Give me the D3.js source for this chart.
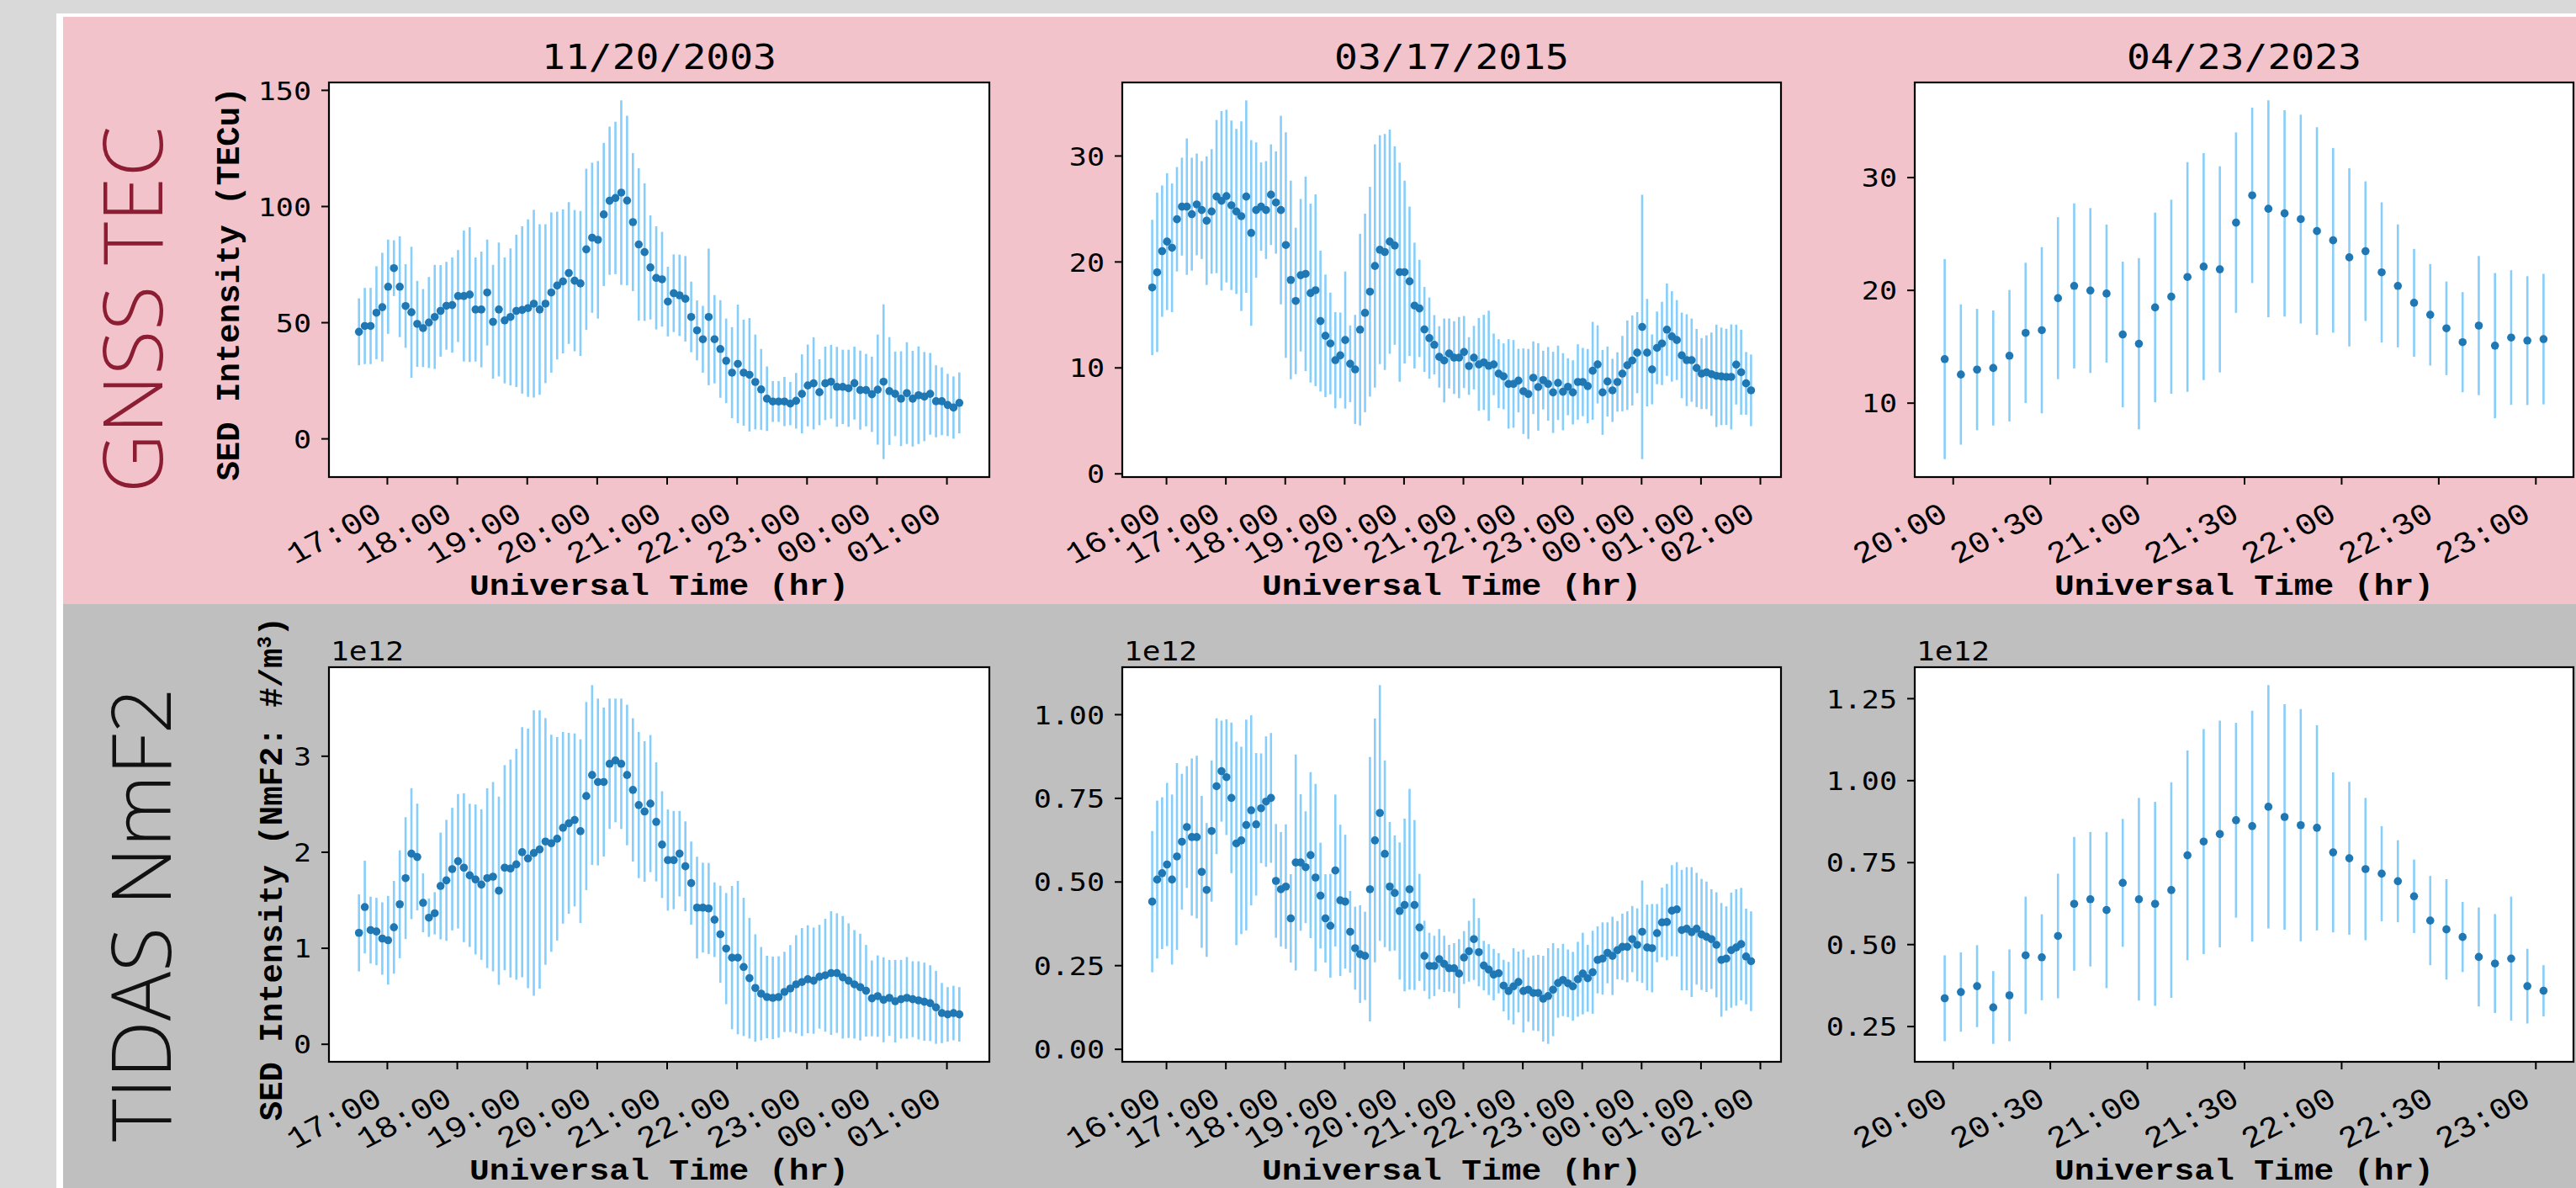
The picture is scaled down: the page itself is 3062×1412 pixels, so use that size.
<!DOCTYPE html>
<html>
<head>
<meta charset="utf-8">
<script src="https://cdn.jsdelivr.net/npm/d3@7"></script>
<style>
  body { margin: 0; background: #d9d9d9; }
  svg { display: block; }
</style>
</head>
<body>
<svg id="fig"></svg>
<script>
// ---- data: 5-minute SED intensity, value and 1-sigma error ----
var start2003 = "2003-11-20T16:36:00Z";
var start2015 = "2015-03-17T15:46:00Z";
var start2023 = "2023-04-23T19:57:30Z";

var tec2003 = [45.9,48.4,48.4,54.1,56.5,65.3,73.3,65.3,57.0,54.3,
  49.3,47.5,49.9,52.3,54.9,57.1,57.4,61.3,61.3,61.9,
  55.5,55.5,62.8,50.2,55.5,50.8,52.3,54.9,55.3,56.1,
  58.0,55.5,58.0,62.8,65.8,67.6,71.2,67.9,66.7,81.4,
  86.4,85.5,96.4,102.3,103.5,105.8,102.4,93.1,83.5,80.2,
  73.6,69.1,68.5,58.9,62.5,61.6,60.1,52.3,46.5,42.7,
  52.3,42.7,38.5,33.4,28.3,32.1,28.3,27.4,24.3,21.1,
  17.1,15.9,15.9,15.9,15.0,16.2,19.2,22.8,23.7,19.9,
  23.7,24.4,22.2,22.2,21.6,23.8,20.8,20.8,19.0,21.0,
  24.4,20.4,19.2,17.1,19.5,17.1,18.6,18.0,19.2,16.0,
  16.0,14.4,13.3,15.3];
var tec2003Err = [14.4,16.4,16.4,20.0,23.4,20.3,12.0,21.7,18.0,28.2,
  18.5,16.8,19.6,22.4,19.7,18.9,20.5,19.8,28.2,29.0,
  22.4,24.9,22.8,24.5,28.8,27.1,29.5,32.8,36.0,38.2,
  40.4,36.7,34.2,34.5,31.8,31.0,30.5,30.4,31.2,34.7,
  32.3,33.9,30.8,31.9,32.8,39.7,36.5,29.7,32.8,29.6,
  22.4,22.2,20.4,15.0,16.7,17.5,18.4,15.2,12.9,14.4,
  29.4,19.0,21.0,18.2,19.6,25.5,22.8,24.4,20.4,17.4,
  13.9,8.8,8.8,10.6,9.3,12.0,17.0,17.6,19.8,14.2,
  15.8,15.9,17.2,16.0,16.6,15.7,17.0,15.6,16.2,23.7,
  33.3,23.2,18.2,20.4,21.9,20.6,21.0,19.2,17.6,15.5,
  14.6,13.4,13.4,13.1];

var tec2015 = [17.55,18.98,20.98,21.88,21.30,23.99,25.18,25.18,24.47,25.39,
  24.86,23.86,24.73,26.13,25.73,26.18,25.31,24.73,24.28,26.13,
  22.70,24.86,25.18,24.86,26.31,25.57,24.86,21.56,18.26,16.28,
  18.71,18.84,17.02,17.29,14.38,12.99,12.27,10.69,11.14,12.59,
  10.35,9.82,13.57,15.15,17.15,19.58,21.11,20.90,21.88,21.51,
  19.00,19.00,18.13,15.84,15.57,13.59,12.77,12.14,11.00,10.66,
  11.32,10.93,10.93,11.46,10.14,10.93,10.29,10.48,10.16,10.29,
  9.42,9.16,8.45,8.45,8.76,7.76,7.50,9.03,8.16,8.81,
  8.45,7.65,8.55,7.71,8.18,7.65,8.63,8.63,8.24,9.69,
  10.29,7.65,8.68,7.84,8.63,9.42,10.21,10.66,11.40,13.83,
  11.40,9.82,11.85,12.27,13.57,12.93,12.59,11.14,10.69,10.69,
  9.95,9.42,9.55,9.37,9.21,9.16,9.11,9.11,10.27,9.55,
  8.50,7.84];
var tec2015Err = [6.39,7.52,6.20,6.46,6.07,4.93,4.62,6.44,5.33,4.80,
  4.62,6.07,5.88,7.23,8.47,8.15,8.00,7.79,8.95,9.08,
  8.76,6.39,4.17,4.62,4.75,4.83,8.90,10.64,9.37,6.91,
  7.20,9.18,8.44,9.05,6.65,5.78,4.80,4.54,4.04,6.47,
  3.62,5.15,9.05,9.37,9.90,11.48,10.80,11.14,10.58,9.37,
  10.34,8.63,7.05,5.94,4.59,4.01,3.83,2.80,2.90,3.96,
  3.30,3.43,3.83,3.40,2.72,3.00,4.38,4.49,5.20,2.91,
  3.25,3.11,4.22,4.14,3.00,4.04,4.25,3.43,4.12,2.77,
  3.48,3.83,3.51,3.64,2.69,3.03,3.56,3.22,3.50,4.62,
  3.69,4.01,3.30,2.98,2.80,3.56,4.22,4.25,3.83,12.48,
  5.07,3.30,3.43,3.93,4.36,4.27,3.77,4.04,4.33,3.93,
  3.69,3.35,3.48,3.93,4.83,4.60,4.54,4.96,3.77,4.01,
  2.96,3.38];

var tec2023 = [13.87,12.50,12.94,13.08,14.17,16.19,16.43,19.27,20.36,19.95,
  19.68,16.05,15.23,18.45,19.40,21.15,22.07,21.83,25.97,28.39,
  27.20,26.79,26.28,25.22,24.40,22.89,23.44,21.56,20.36,18.86,
  17.80,16.60,15.37,16.84,15.06,15.78,15.51,15.64];
var tec2023Err = [8.87,6.22,5.38,5.10,5.83,6.22,7.37,7.18,7.32,7.31,
  6.12,6.46,7.59,8.41,8.60,10.19,10.07,9.14,8.00,7.78,
  9.61,9.15,9.26,9.21,8.19,7.90,6.19,6.21,5.45,4.78,
  4.50,4.15,4.44,6.17,6.44,5.97,5.71,5.79];

// NmF2 in units of 1e12 #/m^3
var nmf2003 = [1.156,1.425,1.185,1.170,1.097,1.079,1.214,1.454,1.726,1.981,
  1.946,1.469,1.314,1.360,1.644,1.703,1.820,1.902,1.835,1.755,
  1.712,1.659,1.726,1.741,1.595,1.835,1.826,1.870,1.996,1.931,
  1.987,2.025,2.107,2.089,2.136,2.250,2.297,2.332,2.215,2.581,
  2.800,2.727,2.727,2.917,2.952,2.917,2.800,2.645,2.487,2.420,
  2.502,2.312,2.075,1.914,1.914,1.981,1.849,1.674,1.419,1.419,
  1.410,1.293,1.141,0.992,0.898,0.898,0.801,0.684,0.582,0.523,
  0.488,0.479,0.488,0.541,0.576,0.620,0.644,0.673,0.658,0.699,
  0.714,0.737,0.737,0.693,0.658,0.620,0.591,0.553,0.474,0.497,
  0.459,0.479,0.444,0.465,0.479,0.465,0.453,0.439,0.424,0.380,
  0.321,0.307,0.321,0.307];
var nmf2003Err = [0.401,0.483,0.348,0.351,0.377,0.462,0.483,0.562,0.635,0.682,
  0.556,0.307,0.200,0.220,0.556,0.630,0.638,0.700,0.775,0.746,
  0.781,0.784,0.936,0.986,0.980,1.068,1.135,1.203,1.302,1.352,
  1.487,1.449,1.285,1.130,1.060,0.998,0.942,0.901,0.957,0.980,
  0.936,0.869,0.776,0.679,0.644,0.679,0.732,0.746,0.761,0.732,
  0.714,0.620,0.556,0.527,0.512,0.445,0.468,0.433,0.530,0.468,
  0.474,0.389,0.506,0.579,0.746,0.799,0.720,0.629,0.559,0.486,
  0.430,0.430,0.424,0.418,0.453,0.512,0.562,0.562,0.553,0.541,
  0.588,0.644,0.623,0.638,0.597,0.565,0.556,0.477,0.395,0.424,
  0.442,0.395,0.430,0.410,0.425,0.395,0.407,0.407,0.395,0.380,
  0.313,0.284,0.284,0.284];

var nmf2015 = [0.440,0.506,0.525,0.551,0.506,0.575,0.619,0.663,0.633,0.633,
  0.529,0.475,0.651,0.785,0.830,0.812,0.750,0.614,0.623,0.669,
  0.713,0.671,0.719,0.739,0.750,0.502,0.477,0.485,0.390,0.557,
  0.557,0.543,0.579,0.512,0.458,0.390,0.368,0.533,0.444,0.440,
  0.350,0.301,0.283,0.278,0.477,0.623,0.705,0.583,0.485,0.466,
  0.412,0.430,0.477,0.430,0.363,0.278,0.248,0.248,0.268,0.254,
  0.241,0.241,0.225,0.273,0.292,0.328,0.289,0.249,0.237,0.222,
  0.226,0.189,0.173,0.187,0.200,0.173,0.177,0.167,0.167,0.150,
  0.158,0.177,0.197,0.206,0.196,0.187,0.208,0.225,0.211,0.229,
  0.266,0.270,0.287,0.278,0.295,0.305,0.305,0.328,0.311,0.350,
  0.303,0.301,0.346,0.378,0.379,0.413,0.417,0.355,0.359,0.349,
  0.359,0.342,0.335,0.328,0.311,0.266,0.270,0.295,0.303,0.313,
  0.276,0.262];
var nmf2015Err = [0.211,0.236,0.227,0.244,0.254,0.279,0.203,0.182,0.235,0.243,
  0.227,0.200,0.211,0.203,0.151,0.173,0.225,0.304,0.280,0.315,
  0.284,0.213,0.164,0.195,0.194,0.170,0.171,0.186,0.132,0.323,
  0.204,0.167,0.248,0.280,0.158,0.132,0.155,0.227,0.226,0.200,
  0.122,0.124,0.146,0.132,0.395,0.364,0.382,0.279,0.193,0.172,
  0.205,0.258,0.300,0.254,0.160,0.105,0.099,0.090,0.090,0.084,
  0.070,0.075,0.103,0.079,0.091,0.122,0.102,0.074,0.076,0.077,
  0.060,0.077,0.087,0.114,0.091,0.124,0.096,0.112,0.114,0.128,
  0.143,0.139,0.104,0.108,0.101,0.103,0.112,0.122,0.100,0.124,
  0.100,0.108,0.091,0.117,0.087,0.099,0.106,0.099,0.109,0.153,
  0.128,0.132,0.087,0.104,0.114,0.136,0.141,0.180,0.184,0.194,
  0.167,0.166,0.165,0.149,0.157,0.170,0.156,0.172,0.174,0.168,
  0.143,0.149];

var nmf2023 = [0.335,0.354,0.372,0.307,0.344,0.466,0.460,0.525,0.623,0.637,
  0.604,0.687,0.637,0.623,0.665,0.771,0.813,0.836,0.878,0.860,
  0.919,0.888,0.863,0.855,0.780,0.762,0.729,0.715,0.692,0.646,
  0.572,0.545,0.522,0.461,0.441,0.456,0.372,0.358];
var nmf2023Err = [0.131,0.121,0.125,0.111,0.140,0.179,0.131,0.190,0.204,0.205,
  0.238,0.195,0.309,0.311,0.329,0.320,0.343,0.346,0.297,0.352,
  0.371,0.344,0.354,0.313,0.244,0.233,0.217,0.145,0.125,0.112,
  0.136,0.153,0.107,0.151,0.151,0.189,0.114,0.078];

// tick labels
var titles = ["11/20/2003", "03/17/2015", "04/23/2023"];
var tecTicks = [[0, 50, 100, 150], [0, 10, 20, 30], [10, 20, 30]];
var nmfTicks = [[0, 1, 2, 3], [0, 0.25, 0.5, 0.75, 1.0], [0.25, 0.5, 0.75, 1.0, 1.25]];
var rowNames = ["GNSS TEC", "TIDAS NmF2"];

// ---- layout ----
var W = 3062, H = 1412;
var colX = [[391, 1176], [1334, 2117], [2276, 3059]];
var rowY = [[98, 567], [793, 1262]];
var SX = 1.13;               // horizontal text stretch seen in the picture
var stepMs = 5 * 60 * 1000;

var svg = d3.select("#fig").attr("width", W).attr("height", H);

svg.append("rect").attr("width", W).attr("height", H).attr("fill", "#d9d9d9");
svg.append("rect").attr("x", 67).attr("y", 16).attr("width", W - 67).attr("height", H - 16).attr("fill", "#ffffff");
svg.append("rect").attr("x", 75).attr("y", 20).attr("width", W - 75).attr("height", 698).attr("fill", "#f2c3cb");
svg.append("rect").attr("x", 75).attr("y", 718).attr("width", W - 75).attr("height", H - 718).attr("fill", "#bfbfbf");

// row labels
svg.append("text")
    .attr("transform", "translate(193,368) rotate(-90)")
    .attr("text-anchor", "middle")
    .style("font-family", "'Open Sans', sans-serif").style("font-weight", 300)
    .style("font-size", "97px").attr("fill", "#8c1d33")
    .text(rowNames[0]);
svg.append("text")
    .attr("transform", "translate(203,1087) rotate(-90)")
    .attr("text-anchor", "middle")
    .style("font-family", "'Open Sans', sans-serif").style("font-weight", 300)
    .style("font-size", "97px").attr("fill", "#111111")
    .text(rowNames[1]);

var panels = [
  {row: 0, col: 0, start: start2003, vals: tec2003, errs: tec2003Err, ticks: tecTicks[0], fmt: d3.format("d"), every: d3.utcHour.every(1)},
  {row: 0, col: 1, start: start2015, vals: tec2015, errs: tec2015Err, ticks: tecTicks[1], fmt: d3.format("d"), every: d3.utcHour.every(1)},
  {row: 0, col: 2, start: start2023, vals: tec2023, errs: tec2023Err, ticks: tecTicks[2], fmt: d3.format("d"), every: d3.utcMinute.every(30)},
  {row: 1, col: 0, start: start2003, vals: nmf2003, errs: nmf2003Err, ticks: nmfTicks[0], fmt: d3.format("d"), every: d3.utcHour.every(1)},
  {row: 1, col: 1, start: start2015, vals: nmf2015, errs: nmf2015Err, ticks: nmfTicks[1], fmt: d3.format(".2f"), every: d3.utcHour.every(1)},
  {row: 1, col: 2, start: start2023, vals: nmf2023, errs: nmf2023Err, ticks: nmfTicks[2], fmt: d3.format(".2f"), every: d3.utcMinute.every(30)}
];

panels.forEach(drawPanel);

function drawPanel(p) {
  var x0 = colX[p.col][0], x1 = colX[p.col][1];
  var y0 = rowY[p.row][0], y1 = rowY[p.row][1];
  var t0 = Date.parse(p.start);
  var pts = p.vals.map(function(v, i) {
    return {t: new Date(t0 + i * stepMs), v: v, e: p.errs[i]};
  });

  // matplotlib-like 5% margins
  var tExt = d3.extent(pts, function(d) { return +d.t; });
  var tPad = (tExt[1] - tExt[0]) * 0.05;
  var x = d3.scaleUtc()
      .domain([new Date(tExt[0] - tPad), new Date(tExt[1] + tPad)])
      .range([x0, x1]);
  var lo = d3.min(pts, function(d) { return d.v - d.e; });
  var hi = d3.max(pts, function(d) { return d.v + d.e; });
  var yPad = (hi - lo) * 0.05;
  var y = d3.scaleLinear().domain([lo - yPad, hi + yPad]).range([y1, y0]);

  var g = svg.append("g");
  g.append("rect")
      .attr("x", x0).attr("y", y0)
      .attr("width", x1 - x0).attr("height", y1 - y0)
      .attr("fill", "#ffffff");

  // error bars
  g.selectAll("line.err")
      .data(pts)
    .enter().append("line")
      .attr("class", "err")
      .attr("x1", function(d) { return x(d.t); })
      .attr("x2", function(d) { return x(d.t); })
      .attr("y1", function(d) { return y(d.v - d.e); })
      .attr("y2", function(d) { return y(d.v + d.e); })
      .attr("stroke", "#87cefa")
      .attr("stroke-width", 2.6);

  // points
  g.selectAll("circle")
      .data(pts)
    .enter().append("circle")
      .attr("cx", function(d) { return x(d.t); })
      .attr("cy", function(d) { return y(d.v); })
      .attr("r", 4.8)
      .attr("fill", "#1f77b4");

  // frame
  g.append("rect")
      .attr("x", x0).attr("y", y0)
      .attr("width", x1 - x0).attr("height", y1 - y0)
      .attr("fill", "none").attr("stroke", "#000").attr("stroke-width", 2.2);

  // y axis
  var ya = g.append("g")
      .attr("transform", "translate(" + x0 + ",0)")
      .call(d3.axisLeft(y).tickValues(p.ticks).tickFormat(p.fmt).tickSize(9).tickSizeOuter(0));
  ya.select(".domain").remove();
  ya.selectAll("line").attr("stroke", "#000").attr("stroke-width", 2);
  ya.selectAll("text")
      .attr("x", 0).attr("dy", "0.36em")
      .attr("transform", "translate(-21,0) scale(" + SX + ",1)")
      .attr("fill", "#000")
      .style("font-family", "'DejaVu Sans Mono', monospace")
      .style("font-size", "31px");

  // x axis
  var xa = g.append("g")
      .attr("transform", "translate(0," + y1 + ")")
      .call(d3.axisBottom(x).ticks(p.every).tickFormat(d3.utcFormat("%H:%M")).tickSize(9).tickSizeOuter(0));
  xa.select(".domain").remove();
  xa.selectAll("line").attr("stroke", "#000").attr("stroke-width", 2);
  xa.selectAll("text")
      .attr("x", 0).attr("y", 0).attr("dy", 0)
      .attr("text-anchor", "end")
      .attr("transform", "translate(-4,50) scale(" + SX + ",1) rotate(-30)")
      .attr("fill", "#000")
      .style("font-family", "'Liberation Mono', 'Courier New', monospace")
      .style("font-size", "36px");

  var cx = (x0 + x1) / 2;
  g.append("text")
      .attr("transform", "translate(" + cx + "," + (y1 + 140) + ") scale(" + SX + ",1)")
      .attr("text-anchor", "middle")
      .style("font-family", "'Liberation Mono', 'Courier New', monospace")
      .style("font-weight", "bold").style("font-size", "35px")
      .text("Universal Time (hr)");

  if (p.row === 0) {
    g.append("text")
        .attr("transform", "translate(" + cx + "," + (y0 - 16) + ") scale(" + SX + ",1)")
        .attr("text-anchor", "middle")
        .style("font-family", "'DejaVu Sans Mono', monospace")
        .style("font-size", "41px")
        .text(titles[p.col]);
  } else {
    g.append("text")
        .attr("transform", "translate(" + (x0 + 2) + "," + (y0 - 8) + ") scale(" + SX + ",1)")
        .style("font-family", "'DejaVu Sans Mono', monospace")
        .style("font-size", "32px")
        .text("1e12");
  }

  if (p.col === 0) {
    var lab = g.append("text")
        .attr("transform", "translate(" + (p.row === 0 ? 284 : 335) + "," + ((y0 + y1) / 2 + 5) + ") rotate(-90)")
        .attr("text-anchor", "middle")
        .style("font-family", "'Liberation Mono', 'Courier New', monospace")
        .style("font-weight", "bold").style("font-size", "39px");
    if (p.row === 0) {
      lab.text("SED Intensity (TECu)");
    } else {
      lab.append("tspan").text("SED Intensity (NmF2: #/m");
      lab.append("tspan").attr("baseline-shift", "super").style("font-size", "24px").text("3");
      lab.append("tspan").text(")");
    }
  }
}
</script>
</body>
</html>
